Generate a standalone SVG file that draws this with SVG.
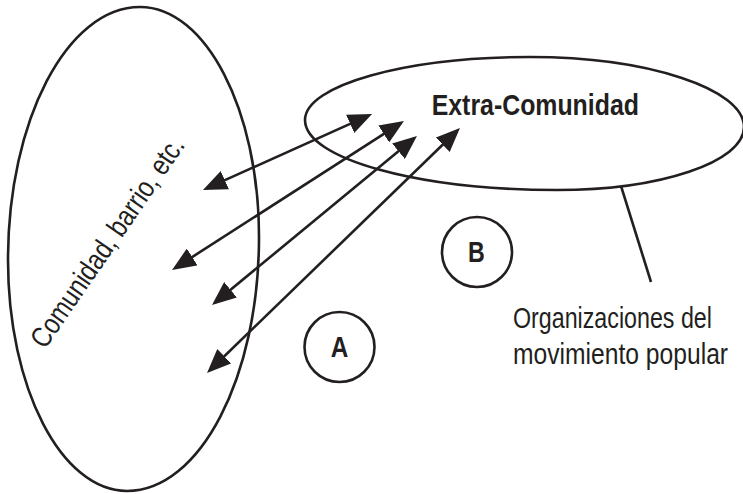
<svg xmlns="http://www.w3.org/2000/svg" width="743" height="494" viewBox="0 0 743 494">
<defs>
<style>
.shape{fill:none;stroke:#231f20;stroke-width:2.6}
.conn{fill:none;stroke:#231f20;stroke-width:2.6}
.lbl{font-family:"Liberation Sans",Arial,sans-serif;font-size:29px;fill:#231f20}
.bold{font-weight:bold}
</style>
<marker id="ah" viewBox="0 0 24 20" markerWidth="24" markerHeight="20" refX="20" refY="10" orient="auto-start-reverse" markerUnits="userSpaceOnUse">
<path d="M0,0 L24,10 L0,20 z" fill="#231f20"/>
</marker>
</defs>
<g id="comunidad">
<path class="shape" d="M8,260 C8,120.3 67.1,7 140,7 C205.7,7 259,110 259,237 C259,377.3 199.9,491 127,491 C61.3,491 8,387.6 8,260 z"/>
<text class="lbl" transform="translate(45,350) rotate(-55.5) scale(0.824,1)">Comunidad, barrio, etc.</text>
</g>
<g id="extra-comunidad">
<path class="shape" d="M305,120 C305,85.2 405.7,57 530,57 C647.6,57 744,88.8 744,127 C744,162.2 659.7,190 557,190 C417.8,190 305,158.7 305,120 z"/>
<text class="lbl bold" transform="translate(431.7,115) scale(0.858,1)">Extra-Comunidad</text>
</g>
<g id="circle-a">
<circle class="shape" cx="339.5" cy="347" r="35"/>
<text class="lbl bold" transform="translate(339.5,357) scale(0.84,1)" text-anchor="middle">A</text>
</g>
<g id="circle-b">
<circle class="shape" cx="477" cy="252" r="35"/>
<text class="lbl bold" transform="translate(476.5,262) scale(0.8,1)" text-anchor="middle">B</text>
</g>
<g id="organizaciones">
<text class="lbl" transform="translate(513,328) scale(0.802,1)">Organizaciones del</text>
<text class="lbl" transform="translate(513,364) scale(0.85,1)">movimiento popular</text>
</g>
<g id="connectors">
<line class="conn" x1="206.6" y1="188.4" x2="368.4" y2="115.6" marker-start="url(#ah)" marker-end="url(#ah)"/>
<line class="conn" x1="175.4" y1="267.8" x2="400.6" y2="123.2" marker-start="url(#ah)" marker-end="url(#ah)"/>
<line class="conn" x1="215.1" y1="302.5" x2="413.9" y2="138.5" marker-start="url(#ah)" marker-end="url(#ah)"/>
<line class="conn" x1="209.9" y1="370.2" x2="457.1" y2="130.8" marker-start="url(#ah)" marker-end="url(#ah)"/>
<line class="conn" x1="621" y1="186" x2="651" y2="282"/>
</g>
</svg>
